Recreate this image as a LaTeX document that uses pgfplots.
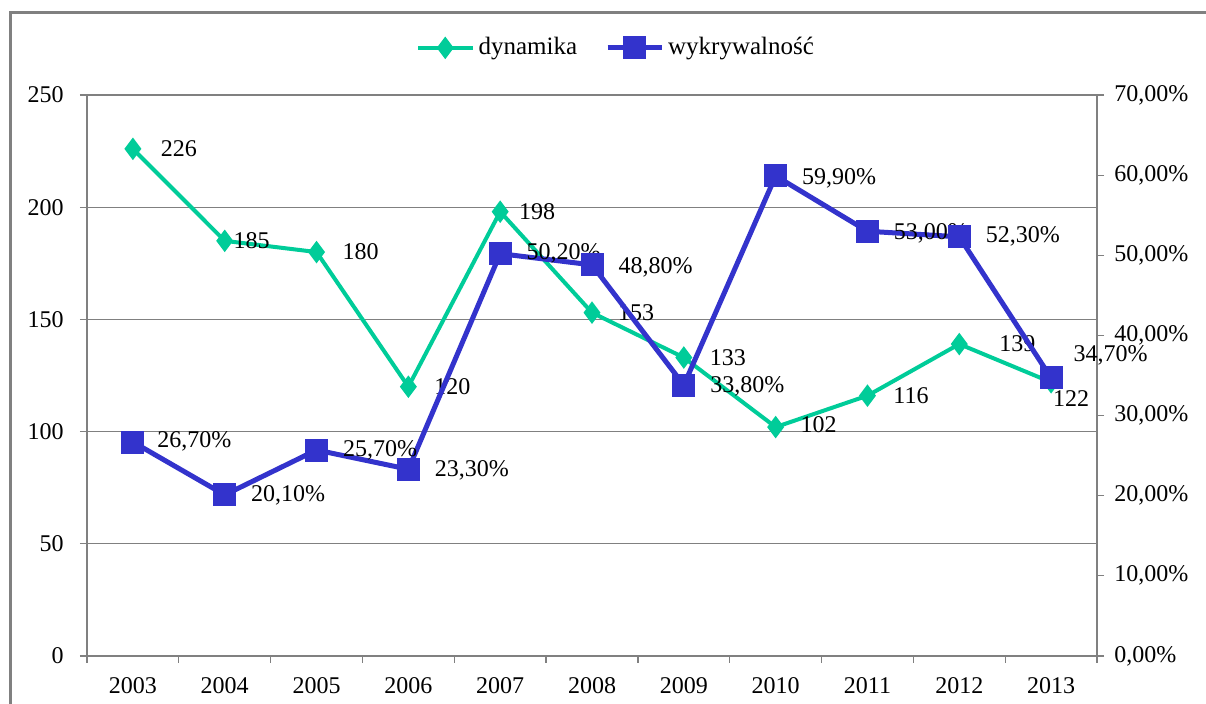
\documentclass[border=0pt]{standalone}
\usepackage{pgfplots}
\pgfplotsset{compat=1.18}
\usepackage{pgfplotstable}
\usepackage{fontspec}
\setmainfont{Liberation Serif}
\definecolor{cgreen}{RGB}{0,204,153}
\definecolor{cblue}{RGB}{51,51,204}
\definecolor{cgray}{RGB}{128,128,128}

\pgfplotstableread{
x y dx dy
0 226 13 0
1 185 3.5 0
2 180 12 0
3 120 12 0
4 198 8.5 0
5 153 12 0
6 133 12 0
7 102 11.5 1
8 116 12 0
9 139 19 0
10 122 0 -8
}\dyn

\pgfplotstableread{
x y dx dy
0 26.7 11 0.5
1 20.1 12 0
2 25.7 12 0
3 23.3 12 -0.5
4 50.2 12 0
5 48.8 12 -1
6 33.8 12 -0.5
7 59.9 12 -1
8 53.0 12 -1
9 52.3 12 0
10 34.7 10 11.5
}\wyk

\begin{document}
\fontsize{12}{14}\selectfont
\begin{tikzpicture}
\path[use as bounding box] (0,0) rectangle (603pt,352pt);
\draw[cgray, line width=1.5pt] (5pt,0) -- (5pt,345.5pt) -- (603pt,345.5pt);
\begin{axis}[
  at={(43.5pt,24pt)}, anchor=south west,
  scale only axis, width=505pt, height=280.5pt,
  xmin=-0.5, xmax=10.5, ymin=0, ymax=250,
  ytick={0,50,...,250},
  xtick={0,...,10},
  xticklabels={2003,2004,2005,2006,2007,2008,2009,2010,2011,2012,2013},
  minor xtick={-0.5,0.5,...,10.5},
  major x tick style={draw=none},
  minor x tick style={draw=cgray},
  minor tick length=3.5pt,
  major tick length=3.5pt,
  tick align=outside,
  axis y line*=left,
  axis x line*=bottom,
  axis line style={cgray, line width=0.6pt},
  every tick/.style={cgray, line width=0.6pt},
  ymajorgrids, grid style={cgray, line width=0.6pt},
  /pgf/number format/assume math mode=true,
  tick label style={font=\fontsize{12}{14}\selectfont},
  xticklabel style={yshift=-3pt},
  yticklabel style={xshift=-4pt},
  legend style={at={(0.525,1.084)}, anchor=center, draw=none, fill=none,
     legend columns=2, font=\fontsize{12.5}{14}\selectfont,
     /tikz/every even column/.append style={column sep=12pt}},
  legend image code/.code={\draw[mark repeat=2,mark phase=2] plot coordinates {(0cm,0cm)(0.47cm,0cm)(0.95cm,0cm)};},
  clip=false,
]
\addplot[cgreen, line width=2pt, mark=diamond*, mark size=4pt, mark options={solid},
  point meta=y,
  visualization depends on={\thisrow{dx}\as\dx},
  visualization depends on={\thisrow{dy}\as\dy},
  nodes near coords={\pgfmathprintnumber[fixed,precision=0,assume math mode=true]{\pgfplotspointmeta}},
  nodes near coords style={anchor=west, black, inner sep=0pt, xshift=\dx pt, yshift=\dy pt, font=\fontsize{12}{14}\selectfont},
] table[x=x,y=y] {\dyn};
\addlegendentry{dynamika}
\addlegendimage{cblue, line width=2.5pt, mark=square*, mark size=4.5pt}
\addlegendentry{wykrywalność}
\end{axis}
\begin{axis}[
  at={(43.5pt,24pt)}, anchor=south west,
  scale only axis, width=505pt, height=280.5pt,
  xmin=-0.5, xmax=10.5, ymin=0, ymax=70,
  axis x line=none,
  axis y line*=right,
  axis line style={cgray, line width=0.6pt},
  every tick/.style={cgray, line width=0.6pt},
  major tick length=3.5pt,
  tick align=outside,
  ytick={0,10,...,70},
  yticklabels={{0,00\%},{10,00\%},{20,00\%},{30,00\%},{40,00\%},{50,00\%},{60,00\%},{70,00\%}},
  tick label style={font=\fontsize{12}{14}\selectfont},
  yticklabel style={xshift=1pt},
  clip=false,
]
\addplot[cblue, line width=2.5pt, mark=square*, mark size=4.5pt, mark options={solid},
  point meta=y,
  visualization depends on={\thisrow{dx}\as\dx},
  visualization depends on={\thisrow{dy}\as\dy},
  nodes near coords={\pgfmathprintnumber[fixed,fixed zerofill,precision=2,use comma,assume math mode=true]{\pgfplotspointmeta}\%},
  nodes near coords style={anchor=west, black, inner sep=0pt, xshift=\dx pt, yshift=\dy pt, font=\fontsize{12}{14}\selectfont},
] table[x=x,y=y] {\wyk};
\end{axis}
\end{tikzpicture}
\end{document}
